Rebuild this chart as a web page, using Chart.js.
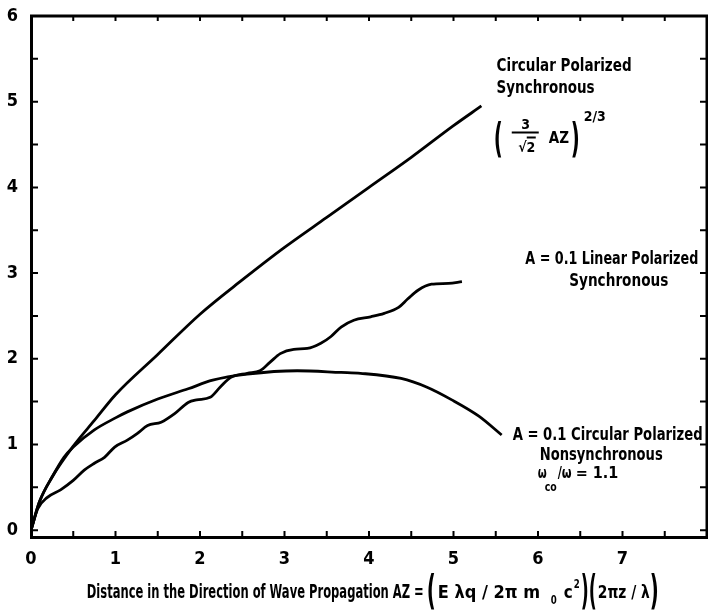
<!DOCTYPE html>
<html>
<head>
<meta charset="utf-8">
<script src="https://cdn.jsdelivr.net/npm/chart.js@4.4.0/dist/chart.umd.min.js"></script>
<style>
  html, body { margin: 0; padding: 0; background: #fff; }
</style>
</head>
<body>
<canvas id="growthChart" width="708" height="613"></canvas>
<script>
// ============================================
// DATA
// ============================================

// Circular polarized, synchronous: (3/sqrt(2) AZ)^(2/3)
const circSyncAZ  = [0, 0.1, 0.25, 0.5, 0.75, 1, 1.5, 2, 2.5, 3, 3.5, 4, 4.5, 5, 5.33];
const circSyncAmp = [0, 0.33, 0.62, 0.98, 1.28, 1.58, 2.05, 2.52, 2.92, 3.3, 3.65, 4.0, 4.35, 4.72, 4.95];

// A = 0.1 circular polarized, nonsynchronous (w_co/w = 1.1)
const circNonsyncAZ  = [0, 0.1, 0.25, 0.39, 0.5, 0.75, 1, 1.14, 1.5, 1.86, 2.15, 2.56, 3.15, 3.67, 3.9, 4.38, 4.68, 4.98, 5.3, 5.57];
const circNonsyncAmp = [0, 0.33, 0.62, 0.85, 0.97, 1.17, 1.31, 1.38, 1.53, 1.65, 1.75, 1.82, 1.86, 1.84, 1.83, 1.77, 1.67, 1.52, 1.33, 1.11];

// A = 0.1 linear polarized, synchronous (wavy)
const linSyncAZ  = [0, 0.08, 0.19, 0.35, 0.5, 0.63, 0.75, 0.87, 0.99, 1.14, 1.26, 1.38, 1.54, 1.70, 1.86, 1.96, 2.12, 2.24, 2.36, 2.56, 2.71, 2.83, 2.95, 3.11, 3.27, 3.43, 3.55, 3.67, 3.82, 4.02, 4.18, 4.35, 4.46, 4.58, 4.74, 4.94, 5.10];
const linSyncAmp = [0, 0.25, 0.38, 0.47, 0.58, 0.70, 0.78, 0.85, 0.97, 1.05, 1.13, 1.22, 1.26, 1.36, 1.49, 1.52, 1.55, 1.67, 1.78, 1.83, 1.86, 1.96, 2.06, 2.11, 2.12, 2.18, 2.26, 2.37, 2.45, 2.49, 2.53, 2.60, 2.70, 2.80, 2.87, 2.88, 2.90];

const xTickLabels = ['0', '1', '2', '3', '4', '5', '6', '7', ''];
const yTickLabels = ['0', '1', '2', '3', '4', '5', '6'];

const FONT = "'DejaVu Sans Condensed', 'Liberation Sans Narrow', 'DejaVu Sans', sans-serif";

function toPoints(xs, ys) {
    return xs.map((x, i) => ({ x: x, y: ys[i] }));
}

function curve(label, xs, ys) {
    return {
        label: label,
        data: toPoints(xs, ys),
        showLine: true,
        borderColor: '#000',
        borderWidth: 2.8,
        pointRadius: 0,
        fill: false,
        cubicInterpolationMode: 'monotone'
    };
}

// ============================================
// PLUGINS
// ============================================

// top/right frame lines and the short inward tick marks on all four sides
const frameTicks = {
    id: 'frameTicks',
    afterDraw(chart) {
        const { ctx, chartArea: a, scales: { x, y } } = chart;
        ctx.save();
        ctx.strokeStyle = '#000';
        ctx.lineWidth = 3;
        ctx.beginPath();
        ctx.moveTo(a.left - 1, a.top);
        ctx.lineTo(a.right, a.top);
        ctx.lineTo(a.right, a.bottom + 1);
        ctx.stroke();

        ctx.lineWidth = 2;
        x.ticks.forEach(t => {
            const px = x.getPixelForValue(t.value);
            if (px <= a.left + 3 || px >= a.right - 3) return;
            ctx.beginPath();
            ctx.moveTo(px, a.bottom);
            ctx.lineTo(px, a.bottom - 6);
            ctx.moveTo(px, a.top);
            ctx.lineTo(px, a.top + 5);
            ctx.stroke();
        });
        y.ticks.forEach(t => {
            const py = y.getPixelForValue(t.value);
            if (py <= a.top + 3 || py >= a.bottom - 3) return;
            ctx.beginPath();
            ctx.moveTo(a.left, py);
            ctx.lineTo(a.left + 7, py);
            ctx.moveTo(a.right, py);
            ctx.lineTo(a.right - 7, py);
            ctx.stroke();
        });
        ctx.restore();
    }
};

// curve captions and the axis title with its formula
const captions = {
    id: 'captions',
    afterDraw(chart) {
        const { ctx, scales: { x, y } } = chart;
        const X = v => x.getPixelForValue(v);
        const Y = v => y.getPixelForValue(v);
        const font = size => `bold ${size}px ${FONT}`;
        const put = (text, px, py, size, maxW) => {
            ctx.font = font(size);
            ctx.fillText(text, px, py, maxW);
        };

        ctx.save();
        ctx.fillStyle = '#000';
        ctx.strokeStyle = '#000';
        ctx.textAlign = 'left';
        ctx.textBaseline = 'alphabetic';

        // Circular Polarized Synchronous
        put('Circular Polarized', X(5.51), Y(5.36), 17, 135);
        put('Synchronous', X(5.51), Y(5.10), 17, 98);

        // (3/sqrt2 AZ)^(2/3)
        const fx = X(5.5), fy = Y(4.64);
        put('(', fx - 2, fy + 19, 40, 9);
        ctx.textAlign = 'center';
        put('3', fx + 30, fy - 4, 14);
        put('\u221a2', fx + 31, fy + 19, 14);
        ctx.textAlign = 'left';
        ctx.lineWidth = 2;
        ctx.beginPath();
        ctx.moveTo(fx + 16, fy);
        ctx.lineTo(fx + 43, fy);
        ctx.moveTo(fx + 31, fy + 5);
        ctx.lineTo(fx + 40, fy + 5);
        ctx.stroke();
        put('AZ', fx + 53, fy + 10, 15, 21);
        put(')', fx + 75, fy + 19, 40, 9);
        put('2/3', fx + 88, fy - 12, 14, 25);

        // A = 0.1 Linear Polarized Synchronous
        put('A = 0.1 Linear Polarized', X(5.85), Y(3.105), 17, 173);
        put('Synchronous', X(6.37), Y(2.85), 17, 99);

        // A = 0.1 Circular Polarized Nonsynchronous
        put('A = 0.1 Circular Polarized', X(5.70), Y(1.05), 17, 190);
        put('Nonsynchronous', X(6.02), Y(0.82), 17, 123);
        const wx = X(6.02), wy = Y(0.61);
        put('\u03c9', wx - 2, wy, 15, 9);
        put('co', wx + 5, wy + 13, 12, 12);
        put('/\u03c9', wx + 18, wy, 15, 14);
        put('= 1.1', wx + 36, wy, 16, 43);

        // axis title
        const tx = X(0.66), ty = 598;
        put('Distance in the Direction of Wave Propagation AZ =', tx, ty, 19, 337);
        put('(', tx + 340, ty + 6, 40, 9);
        put('E \u03bbq / 2\u03c0 m', tx + 351, ty, 18, 112);
        put('0', tx + 464, ty + 6, 12, 6);
        put('c', tx + 477, ty, 18, 9);
        put('2', tx + 487, ty - 10, 12, 6);
        put(')(', tx + 494, ty + 6, 40, 16);
        put('2\u03c0z / \u03bb', tx + 511, ty, 18, 52);
        put(')', tx + 563, ty + 6, 40, 9);

        ctx.restore();
    }
};

// ============================================
// CHART
// ============================================

const ctx = document.getElementById('growthChart');

new Chart(ctx, {
    type: 'scatter',
    data: {
        datasets: [
            curve('Circular Polarized Synchronous', circSyncAZ, circSyncAmp),
            curve('A = 0.1 Circular Polarized Nonsynchronous', circNonsyncAZ, circNonsyncAmp),
            curve('A = 0.1 Linear Polarized Synchronous', linSyncAZ, linSyncAmp)
        ]
    },
    options: {
        responsive: false,
        animation: false,
        devicePixelRatio: 1,
        layout: { padding: { top: 16, right: 1, left: 0, bottom: 0 } },
        plugins: {
            legend: { display: false },
            tooltip: { enabled: false }
        },
        scales: {
            x: {
                type: 'linear',
                min: 0,
                max: 8,
                afterFit: scale => {
                    scale.height = 76;
                    scale.paddingLeft = 0;
                    scale.paddingRight = 0;
                },
                grid: { display: false, drawTicks: false },
                border: { display: true, color: '#000', width: 3 },
                ticks: {
                    stepSize: 0.5,
                    autoSkip: false,
                    maxRotation: 0,
                    padding: 12,
                    color: '#000',
                    font: { family: FONT, size: 18, weight: 'bold' },
                    callback: v => Number.isInteger(v) ? xTickLabels[v] : ''
                }
            },
            y: {
                type: 'linear',
                min: -0.08,
                max: 6,
                afterFit: scale => {
                    scale.width = 31;
                    scale.paddingTop = 0;
                    scale.paddingBottom = 0;
                },
                grid: { display: false, drawTicks: false },
                border: { display: true, color: '#000', width: 3 },
                ticks: {
                    stepSize: 0.5,
                    includeBounds: false,
                    autoSkip: false,
                    padding: 13,
                    color: '#000',
                    font: { family: FONT, size: 18, weight: 'bold' },
                    callback: v => Number.isInteger(v) ? yTickLabels[v] : ''
                }
            }
        }
    },
    plugins: [frameTicks, captions]
});
</script>
</body>
</html>
